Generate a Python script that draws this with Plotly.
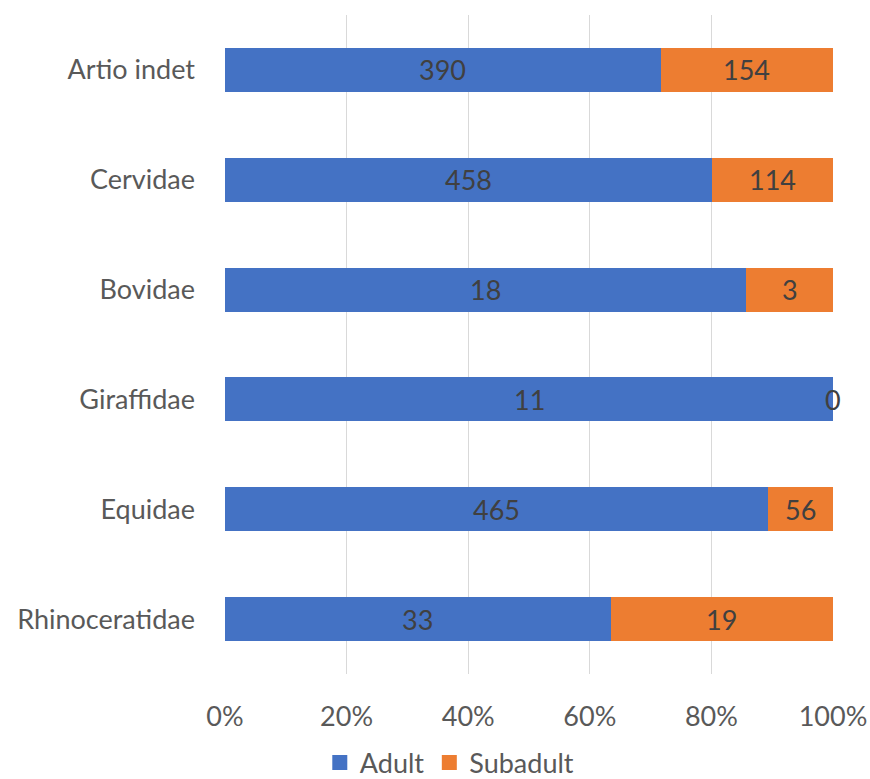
import plotly.graph_objects as go

categories = ["Rhinoceratidae", "Equidae", "Giraffidae", "Bovidae", "Cervidae", "Artio indet"]
adult = [33, 465, 11, 18, 458, 390]
subadult = [19, 56, 0, 3, 114, 154]
series_names = ["Adult", "Subadult"]

BLUE = "#4472C4"
ORANGE = "#ED7D31"
FONT = "Lato, 'Open Sans', sans-serif"
SIZE = 27

fig = go.Figure()
for name, vals, col in zip(series_names, [adult, subadult], [BLUE, ORANGE]):
    fig.add_trace(go.Bar(y=categories, x=vals, name=name, orientation="h",
                         marker=dict(color=col, line=dict(width=0)),
                         showlegend=False))
    # legend key with a larger square swatch
    fig.add_trace(go.Scatter(x=[None], y=[None], mode="markers", name=name,
                             marker=dict(symbol="square", size=15, color=col)))

# value labels centred on each segment of the normalised stack
for cat, a, s in zip(categories, adult, subadult):
    tot = a + s
    pa = a / tot * 100
    ps = s / tot * 100
    fig.add_annotation(x=pa / 2, y=cat, text=str(a), showarrow=False,
                       font=dict(size=SIZE, color="#404040", family=FONT))
    fig.add_annotation(x=pa + ps / 2, y=cat, text=str(s), showarrow=False,
                       font=dict(size=SIZE, color="#404040", family=FONT))

fig.update_layout(
    barmode="stack",
    barnorm="percent",
    bargap=0.6,
    width=870, height=779,
    margin=dict(l=225, r=37, t=15, b=105),
    paper_bgcolor="white", plot_bgcolor="white",
    font=dict(family=FONT, size=SIZE, color="#595959"),
    legend=dict(orientation="h", x=0.517, xanchor="center", xref="container",
                y=16 / 779, yanchor="middle", yref="container",
                font=dict(size=SIZE, color="#595959"), itemwidth=30,
                traceorder="normal", tracegroupgap=0),
    xaxis=dict(range=[0, 100], tickvals=[0, 20, 40, 60, 80, 100],
               ticktext=["0%", "20%", "40%", "60%", "80%", "100%"],
               showgrid=True, gridcolor="#D9D9D9", gridwidth=1,
               zeroline=False, showline=False, ticks="", ticklabelstandoff=24,
               automargin=False),
    yaxis=dict(categoryorder="array", categoryarray=categories,
               showgrid=False, zeroline=False, showline=False, ticks="",
               ticklabelstandoff=29, automargin=False),
)

fig.write_html("out.html")
